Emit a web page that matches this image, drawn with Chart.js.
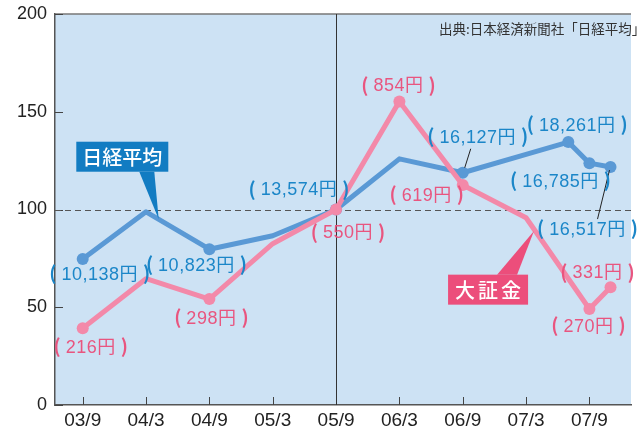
<!DOCTYPE html>
<html lang="ja">
<head>
<meta charset="utf-8">
<script src="https://cdn.jsdelivr.net/npm/chart.js@4.4.0/dist/chart.umd.min.js"></script>
<style>
  html, body { margin: 0; padding: 0; background: #fff; }
  #wrap { width: 637px; height: 435px; position: relative; }
</style>
</head>
<body>
<div id="wrap"><canvas id="chart"></canvas></div>
<script>
"use strict";

// x positions are months counted from 03/9
const TICK_MONTHS = [0, 6, 12, 18, 24, 30, 36, 42, 48];
const TICK_LABELS = ["03/9", "04/3", "04/9", "05/3", "05/9", "06/3", "06/9", "07/3", "07/9"];
const Y_TICKS = [0, 50, 100, 150, 200];

const NIKKEI_MONTHS = [0, 6, 12, 18, 24, 30, 36, 42, 46, 48, 50];
const NIKKEI_VALUES = [74.7, 98.8, 79.7, 86.6, 100, 125.9, 118.8, 128.2, 134.5, 123.7, 121.7];
const NIKKEI_MARKERS = [6, 0, 6, 0, 6, 0, 6, 0, 6, 6, 6];

const DAISHO_MONTHS = [0, 6, 12, 18, 24, 30, 36, 42, 48, 50];
const DAISHO_VALUES = [39.3, 64.6, 54.2, 82.5, 100, 155.3, 112.5, 95.8, 49.1, 60.2];
const DAISHO_MARKERS = [6, 0, 6, 0, 6, 6, 6, 0, 6, 6];

const NIKKEI_LABELS = [
  { i: 0, text: "10,138円", dx: 17, dy: 15 },
  { i: 2, text: "10,823円", dx: -13, dy: 16 },
  { i: 4, text: "13,574円", dx: -37, dy: -20 },
  { i: 6, text: "16,127円", dx: 15, dy: -36 },
  { i: 8, text: "18,261円", dx: 9, dy: -17 },
  { i: 9, text: "16,785円", dx: -29, dy: 18 },
  { i: 10, text: "16,517円", dx: -23, dy: 62 },
];
const DAISHO_LABELS = [
  { i: 0, text: "216円", dx: 8, dy: 19 },
  { i: 2, text: "298円", dx: 2, dy: 19 },
  { i: 4, text: "550円", dx: 12, dy: 23 },
  { i: 5, text: "854円", dx: -1, dy: -16 },
  { i: 6, text: "619円", dx: -36, dy: 10 },
  { i: 8, text: "270円", dx: -1, dy: 17 },
  { i: 9, text: "331円", dx: -13, dy: -15 },
];
// leader lines, offsets from the data point
const LEADERS = [
  { i: 6, from: [8, -24], to: [2, -5] },
  { i: 10, from: [-1, 3], to: [-13, 52] },
];

const COLOR = {
  bg: "#cde2f4",
  nikkeiLine: "#5a99d5",
  nikkeiText: "#1b86c8",
  nikkeiBox: "#127cc2",
  daishoLine: "#f389a9",
  daishoText: "#e9557f",
  daishoBox: "#ec4e7b",
  axis: "#555",
};

const NUM_FONT = '18px "Liberation Sans", "Noto Sans CJK JP", sans-serif';
const PAREN_FONT = 'bold 19px "Noto Sans CJK JP", sans-serif';

function toPoints(months, values) {
  return months.map((m, k) => ({ x: m, y: values[k] }));
}

function drawParenLabel(ctx, text, cx, cy, color) {
  ctx.save();
  ctx.fillStyle = color;
  ctx.textBaseline = "middle";
  ctx.font = NUM_FONT;
  ctx.letterSpacing = "0.5px";
  const tw = ctx.measureText(text).width;
  ctx.letterSpacing = "0px";
  ctx.font = PAREN_FONT;
  const pw = ctx.measureText("(").width;
  const gap = 5;
  const total = pw * 2 + gap * 2 + tw;
  let x = cx - total / 2;
  ctx.textAlign = "left";
  ctx.fillText("(", x, cy - 1);
  x += pw + gap;
  ctx.font = NUM_FONT;
  ctx.letterSpacing = "0.5px";
  ctx.fillText(text, x, cy + 1);
  ctx.letterSpacing = "0px";
  x += tw + gap;
  ctx.font = PAREN_FONT;
  ctx.fillText(")", x, cy - 1);
  ctx.restore();
}

const decorPlugin = {
  id: "decor",
  beforeDraw(chart) {
    const { ctx, chartArea: a } = chart;
    ctx.save();
    ctx.fillStyle = COLOR.bg;
    ctx.fillRect(a.left, a.top, a.right - a.left, a.bottom - a.top);
    ctx.restore();
  },
  beforeDatasetsDraw(chart) {
    const { ctx, chartArea: a, scales } = chart;
    const x = scales.x, y = scales.y;
    ctx.save();
    // top border
    ctx.strokeStyle = "#777";
    ctx.lineWidth = 1.5;
    ctx.beginPath();
    ctx.moveTo(a.left, a.top);
    ctx.lineTo(a.right, a.top);
    ctx.stroke();
    // inward tick marks
    ctx.strokeStyle = "#444";
    ctx.lineWidth = 1;
    for (const m of TICK_MONTHS) {
      const px = Math.round(x.getPixelForValue(m)) + 0.5;
      ctx.beginPath();
      ctx.moveTo(px, a.bottom);
      ctx.lineTo(px, a.bottom - 8);
      ctx.stroke();
    }
    for (const v of Y_TICKS) {
      const py = Math.round(y.getPixelForValue(v)) + 0.5;
      ctx.beginPath();
      ctx.moveTo(a.left, py);
      ctx.lineTo(a.left + 8, py);
      ctx.stroke();
    }
    // 05/9 divider
    const vx = Math.round(x.getPixelForValue(24)) + 0.5;
    ctx.strokeStyle = "#333";
    ctx.beginPath();
    ctx.moveTo(vx, a.top);
    ctx.lineTo(vx, a.bottom);
    ctx.stroke();
    // base line 100
    const hy = Math.round(y.getPixelForValue(100)) + 0.5;
    ctx.strokeStyle = "#555";
    ctx.setLineDash([6, 4]);
    ctx.beginPath();
    ctx.moveTo(a.left, hy);
    ctx.lineTo(a.right, hy);
    ctx.stroke();
    ctx.restore();
  },
  afterDatasetsDraw(chart) {
    const { ctx, scales } = chart;
    const x = scales.x, y = scales.y;
    const nk = chart.getDatasetMeta(1).data;
    const ds = chart.getDatasetMeta(0).data;

    ctx.save();
    // leader lines
    ctx.strokeStyle = "#222";
    ctx.lineWidth = 1;
    for (const l of LEADERS) {
      const p = nk[l.i];
      ctx.beginPath();
      ctx.moveTo(p.x + l.from[0], p.y + l.from[1]);
      ctx.lineTo(p.x + l.to[0], p.y + l.to[1]);
      ctx.stroke();
    }
    ctx.restore();

    for (const l of NIKKEI_LABELS) {
      const p = nk[l.i];
      drawParenLabel(ctx, l.text, p.x + l.dx, p.y + l.dy, COLOR.nikkeiText);
    }
    for (const l of DAISHO_LABELS) {
      const p = ds[l.i];
      drawParenLabel(ctx, l.text, p.x + l.dx, p.y + l.dy, COLOR.daishoText);
    }

    // callout boxes
    drawCallout(ctx, {
      text: "日経平均", color: COLOR.nikkeiBox,
      cx: x.getPixelForValue(3.75), cy: y.getPixelForValue(127), w: 92, h: 30,
      side: "bottom", base: [17, 32],
      tip: [x.getPixelForValue(7.2), y.getPixelForValue(95)], spacing: 0,
    });
    drawCallout(ctx, {
      text: "大証金", color: COLOR.daishoBox,
      cx: x.getPixelForValue(38.4), cy: y.getPixelForValue(59), w: 80, h: 30,
      side: "top", base: [9, 29],
      tip: [x.getPixelForValue(42.75), y.getPixelForValue(89)], spacing: 3,
    });

    // source note
    ctx.save();
    ctx.fillStyle = "#333";
    ctx.font = '13.5px "Noto Sans CJK JP", sans-serif';
    ctx.textBaseline = "middle";
    ctx.textAlign = "left";
    ctx.fillText("出典:日本経済新聞社「日経平均」", 439, 29);
    ctx.restore();
  },
};

function drawCallout(ctx, c) {
  const left = c.cx - c.w / 2, top = c.cy - c.h / 2;
  const edge = c.side === "bottom" ? top + c.h : top;
  ctx.save();
  ctx.fillStyle = c.color;
  ctx.fillRect(left, top, c.w, c.h);
  ctx.beginPath();
  ctx.moveTo(c.cx + c.base[0], edge);
  ctx.lineTo(c.tip[0], c.tip[1]);
  ctx.lineTo(c.cx + c.base[1], edge);
  ctx.closePath();
  ctx.fill();
  ctx.fillStyle = "#fff";
  ctx.font = '500 20px "Noto Sans CJK JP", sans-serif';
  ctx.letterSpacing = c.spacing + "px";
  ctx.textAlign = "center";
  ctx.textBaseline = "middle";
  ctx.fillText(c.text, c.cx + c.spacing / 2, c.cy + 1);
  ctx.restore();
}

new Chart(document.getElementById("chart"), {
  type: "line",
  data: {
    datasets: [
      {
        label: "大証金",
        data: toPoints(DAISHO_MONTHS, DAISHO_VALUES),
        borderColor: COLOR.daishoLine,
        backgroundColor: COLOR.daishoLine,
        borderWidth: 5,
        pointRadius: DAISHO_MARKERS,
        pointHoverRadius: DAISHO_MARKERS,
        pointBorderWidth: 0,
        borderJoinStyle: "round",
        tension: 0,
        clip: false,
      },
      {
        label: "日経平均",
        data: toPoints(NIKKEI_MONTHS, NIKKEI_VALUES),
        borderColor: COLOR.nikkeiLine,
        backgroundColor: COLOR.nikkeiLine,
        borderWidth: 5,
        pointRadius: NIKKEI_MARKERS,
        pointHoverRadius: NIKKEI_MARKERS,
        pointBorderWidth: 0,
        borderJoinStyle: "round",
        tension: 0,
        clip: false,
      },
    ],
  },
  options: {
    responsive: true,
    maintainAspectRatio: false,
    animation: false,
    events: [],
    layout: { padding: { top: 14, right: 0, left: 0, bottom: 0 } },
    plugins: { legend: { display: false }, tooltip: { enabled: false } },
    scales: {
      x: {
        type: "linear",
        min: -2.625,
        max: 51.94,
        grid: { display: false, drawTicks: false },
        border: { display: true, color: COLOR.axis, width: 1.5 },
        afterBuildTicks: (scale) => {
          scale.ticks = TICK_MONTHS.map((m) => ({ value: m }));
        },
        afterFit: (scale) => {
          scale.height = 30;
          scale.paddingRight = 0;
          scale.paddingLeft = 0;
        },
        ticks: {
          autoSkip: false,
          maxRotation: 0,
          padding: 4,
          color: "#222",
          font: { family: '"Liberation Sans", Arial, sans-serif', size: 19 },
          callback: (v) => TICK_LABELS[TICK_MONTHS.indexOf(v)] ?? "",
        },
      },
      y: {
        min: 0,
        max: 200,
        grid: { display: false, drawTicks: false },
        border: { display: true, color: COLOR.axis, width: 1.5 },
        afterBuildTicks: (scale) => {
          scale.ticks = Y_TICKS.map((v) => ({ value: v }));
        },
        afterFit: (scale) => {
          scale.width = 55;
          scale.paddingTop = 0;
          scale.paddingBottom = 0;
        },
        ticks: {
          padding: 8,
          color: "#222",
          font: { family: '"Liberation Sans", Arial, sans-serif', size: 18 },
        },
      },
    },
  },
  plugins: [decorPlugin],
});
</script>
</body>
</html>
